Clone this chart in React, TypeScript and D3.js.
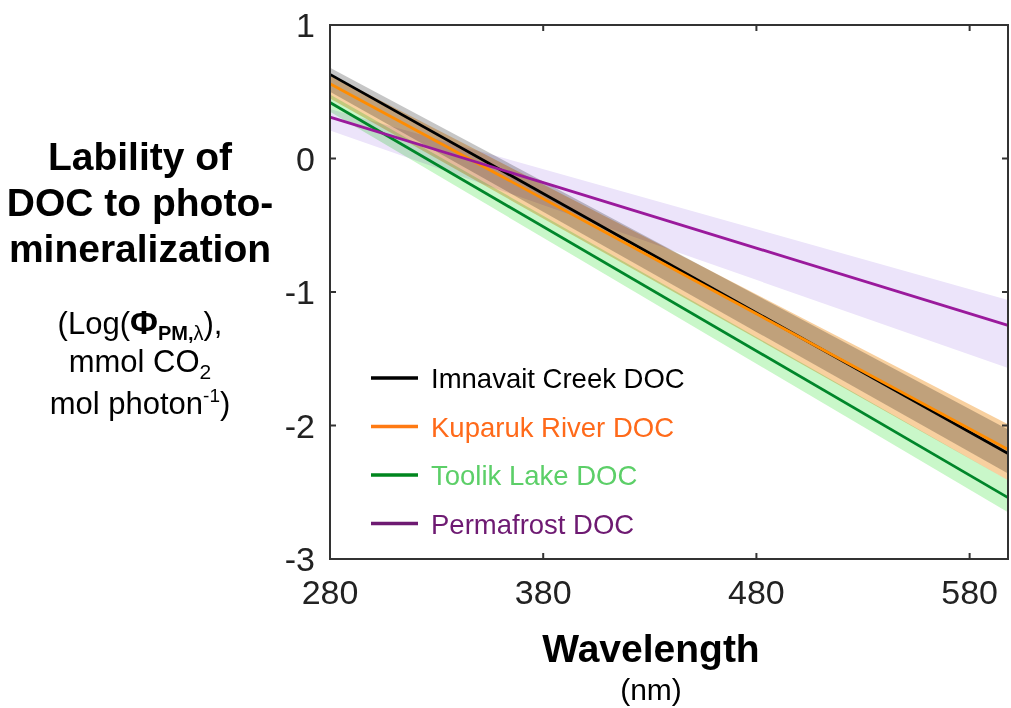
import React, { useEffect, useRef } from "react";
import * as d3 from "d3";

// wavelength endpoints (nm) of the fitted lines
const wavelengths = [280, 598];

const seriesNames = ["Imnavait Creek DOC", "Kuparuk River DOC", "Toolik Lake DOC", "Permafrost DOC"];

// log(phi) at each wavelength: fit, upper and lower band
const imnavaitFit = [0.63, -2.21];
const imnavaitUpper = [0.68, -2.03];
const imnavaitLower = [0.5, -2.36];

const kuparukFit = [0.56, -2.18];
const kuparukUpper = [0.63, -1.99];
const kuparukLower = [0.45, -2.41];

const toolikFit = [0.42, -2.54];
const toolikUpper = [0.48, -2.41];
const toolikLower = [0.35, -2.65];

const permafrostFit = [0.31, -1.25];
const permafrostUpper = [0.37, -1.06];
const permafrostLower = [0.21, -1.57];

const xTicks = [280, 380, 480, 580];
const yTicks = [1, 0, -1, -2, -3];

const lineColors = ["#000000", "#ff8c00", "#00862a", "#9a1a9c"];
const bandColors = ["#c6c6c6", "#f8d09f", "#c9f7c9", "#ece4fa"];
const legendLineColors = ["#000000", "#ff7a12", "#00861e", "#6e1a72"];
const legendTextColors = ["#000000", "#ff6a1a", "#5ccf68", "#6e1a72"];

const FONT = "'Liberation Sans', Arial, Helvetica, sans-serif";

export default function App() {
  const svgRef = useRef<SVGSVGElement | null>(null);

  useEffect(() => {
    const svg = d3.select(svgRef.current);
    svg.selectAll("*").remove();

    const left = 330;
    const right = 1008;
    const top = 25;
    const bottom = 559;

    const x = d3.scaleLinear().domain([280, 598]).range([left, right]);
    const y = d3.scaleLinear().domain([-3, 1]).range([bottom, top]);

    const series = [
      { fit: imnavaitFit, upper: imnavaitUpper, lower: imnavaitLower },
      { fit: kuparukFit, upper: kuparukUpper, lower: kuparukLower },
      { fit: toolikFit, upper: toolikUpper, lower: toolikLower },
      { fit: permafrostFit, upper: permafrostUpper, lower: permafrostLower },
    ];

    const area = d3.area<number>().x((d) => x(d));
    const line = d3
      .line<[number, number]>()
      .x((d) => x(d[0]))
      .y((d) => y(d[1]));

    const plot = svg.append("g").style("isolation", "isolate");

    // bands multiply so overlaps darken like the original
    [3, 2, 1, 0].forEach((i) => {
      const s = series[i];
      plot
        .append("path")
        .attr(
          "d",
          area
            .y0((_, k) => y(s.lower[k]))
            .y1((_, k) => y(s.upper[k]))(wavelengths)
        )
        .attr("fill", bandColors[i])
        .style("mix-blend-mode", "multiply");
    });

    [2, 0, 1, 3].forEach((i) => {
      const s = series[i];
      plot
        .append("path")
        .attr("d", line(wavelengths.map((w, k) => [w, s.fit[k]])))
        .attr("fill", "none")
        .attr("stroke", lineColors[i])
        .attr("stroke-width", 2.8);
    });

    // box and inward ticks
    const axisColor = "#333";
    svg
      .append("rect")
      .attr("x", left)
      .attr("y", top)
      .attr("width", right - left)
      .attr("height", bottom - top)
      .attr("fill", "none")
      .attr("stroke", axisColor)
      .attr("stroke-width", 2);

    const tickLen = 6;
    xTicks.forEach((t) => {
      svg.append("line").attr("x1", x(t)).attr("x2", x(t)).attr("y1", bottom).attr("y2", bottom - tickLen)
        .attr("stroke", axisColor).attr("stroke-width", 2);
      svg.append("line").attr("x1", x(t)).attr("x2", x(t)).attr("y1", top).attr("y2", top + tickLen)
        .attr("stroke", axisColor).attr("stroke-width", 2);
      svg.append("text")
        .attr("x", x(t))
        .attr("y", 604)
        .attr("text-anchor", "middle")
        .style("font-family", FONT)
        .style("font-size", "34px")
        .style("fill", "#222")
        .text(t);
    });
    yTicks.forEach((t) => {
      svg.append("line").attr("x1", left).attr("x2", left + tickLen).attr("y1", y(t)).attr("y2", y(t))
        .attr("stroke", axisColor).attr("stroke-width", 2);
      svg.append("line").attr("x1", right).attr("x2", right - tickLen).attr("y1", y(t)).attr("y2", y(t))
        .attr("stroke", axisColor).attr("stroke-width", 2);
      svg.append("text")
        .attr("x", 315)
        .attr("y", y(t) + 12)
        .attr("text-anchor", "end")
        .style("font-family", FONT)
        .style("font-size", "34px")
        .style("fill", "#222")
        .text(t);
    });

    // legend
    const legend = svg.append("g");
    seriesNames.forEach((name, i) => {
      const ly = 378 + i * 48.5;
      legend.append("line")
        .attr("x1", 371).attr("x2", 418).attr("y1", ly).attr("y2", ly)
        .attr("stroke", legendLineColors[i]).attr("stroke-width", 3.5);
      legend.append("text")
        .attr("x", 431)
        .attr("y", ly + 10)
        .style("font-family", FONT)
        .style("font-size", "27.5px")
        .style("fill", legendTextColors[i])
        .text(name);
    });

    // x title
    svg.append("text")
      .attr("x", 651).attr("y", 662)
      .attr("text-anchor", "middle")
      .style("font-family", FONT).style("font-size", "39px").style("font-weight", "bold")
      .text("Wavelength");
    svg.append("text")
      .attr("x", 651).attr("y", 700)
      .attr("text-anchor", "middle")
      .style("font-family", FONT).style("font-size", "30px")
      .text("(nm)");

    // y title
    ["Lability of", "DOC to photo-", "mineralization"].forEach((s, i) => {
      svg.append("text")
        .attr("x", 140).attr("y", 170 + i * 46)
        .attr("text-anchor", "middle")
        .style("font-family", FONT).style("font-size", "39px").style("font-weight", "bold")
        .text(s);
    });

    const sub = svg.append("g").style("font-family", FONT).style("font-size", "31px");
    const l1 = sub.append("text").attr("x", 140).attr("y", 334).attr("text-anchor", "middle");
    l1.append("tspan").text("(Log(");
    l1.append("tspan").style("font-weight", "bold").style("font-size", "34px").text("Φ");
    l1.append("tspan").attr("dy", 6).style("font-size", "20px").style("font-weight", "bold").text("PM,");
    l1.append("tspan").style("font-size", "20px").text("λ");
    l1.append("tspan").attr("dy", -6).text("),");

    const l2 = sub.append("text").attr("x", 140).attr("y", 372).attr("text-anchor", "middle");
    l2.append("tspan").text("mmol CO");
    l2.append("tspan").attr("dy", 7).style("font-size", "21px").text("2");

    const l3 = sub.append("text").attr("x", 140).attr("y", 414).attr("text-anchor", "middle");
    l3.append("tspan").text("mol photon");
    l3.append("tspan").attr("dy", -12).style("font-size", "19px").text("-1");
    l3.append("tspan").attr("dy", 12).text(")");
  }, []);

  return (
    <svg
      ref={svgRef}
      width={1011}
      height={708}
      style={{ position: "absolute", left: 0, top: 0, background: "#fff" }}
    />
  );
}
